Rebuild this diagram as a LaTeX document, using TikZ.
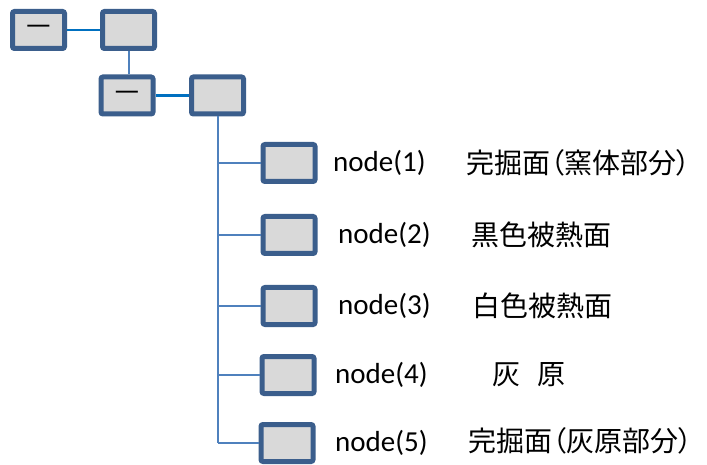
\documentclass[tikz,border=0pt]{standalone}
\usepackage{fontspec}
\setmainfont{Carlito}
\newfontfamily\jpfont[RawFeature=+palt]{Noto Sans CJK JP}
\usetikzlibrary{positioning}
\definecolor{boxBlue}{HTML}{3B5E8C}
\definecolor{boxGray}{HTML}{D9D9D9}
\definecolor{linkBlue}{HTML}{0070C0}
\definecolor{treeBlue}{HTML}{4F81BD}
\tikzset{
  cell/.style={rectangle, rounded corners=2pt, draw=boxBlue, fill=boxGray,
               line width=5pt, minimum width=52pt, minimum height=37pt,
               inner sep=0pt, font=\fontsize{30}{32}\selectfont},
  linkH/.style={linkBlue, line width=2.2pt},
  linkT/.style={treeBlue, line width=2pt},
  nodeTag/.style={anchor=west, inner sep=0pt, font=\fontsize{29}{33}\selectfont},
  jpLabel/.style={anchor=west, inner sep=0pt, font=\jpfont\fontsize{28}{32}\selectfont},
}
\begin{document}
\begin{tikzpicture}[x=1pt, y=1pt]
    \useasboundingbox (0,0) rectangle (707,464);
    % upper part
    \node[cell] (b1) at (38.5,434) {—};
    \node[cell] (b2) at (128.5,434) {};
    \node[cell] (b3) at (127,368.5) {—};
    \node[cell] (b4) at (217.5,368.5) {};
    % child boxes
    \node[cell] (c1) at (289,301) {};
    \node[cell] (c2) at (289,229) {};
    \node[cell] (c3) at (289,158) {};
    \node[cell] (c4) at (288,89) {};
    \node[cell] (c5) at (287,21) {};
    % labels
    \node[nodeTag] (t1) at (333,301) {node(1)};
    \node[nodeTag] (t2) at (338,229) {node(2)};
    \node[nodeTag] (t3) at (338,158) {node(3)};
    \node[nodeTag] (t4) at (335,89) {node(4)};
    \node[nodeTag] (t5) at (335,21) {node(5)};
    \node[jpLabel] (n1) at (466,301) {完掘面（窯体部分）};
    \node[jpLabel] (n2) at (471,229) {黒色被熱面};
    \node[jpLabel] (n3) at (472,158) {白色被熱面};
    \node[jpLabel] (n4) at (492,89) {灰\hspace{0.6em}原};
    \node[jpLabel] (n5) at (468,23) {完掘面（灰原部分）};
    % connectors
    \draw[linkH] (b1.east) -- (b2.west);
    \draw[linkT] (b2.south) -- (b2.south |- b3.north);
    \draw[linkH] (b3.east) -- (b4.west);
    \coordinate (trunk) at (b4.south |- c5.west);
    \draw[linkT] (b4.south) -- (trunk);
    \draw[linkT] (b4.south |- c1.west) -- (c1.west);
    \draw[linkT] (b4.south |- c2.west) -- (c2.west);
    \draw[linkT] (b4.south |- c3.west) -- (c3.west);
    \draw[linkT] (b4.south |- c4.west) -- (c4.west);
    \draw[linkT] (trunk) -- (c5.west);
\end{tikzpicture}
\end{document}
